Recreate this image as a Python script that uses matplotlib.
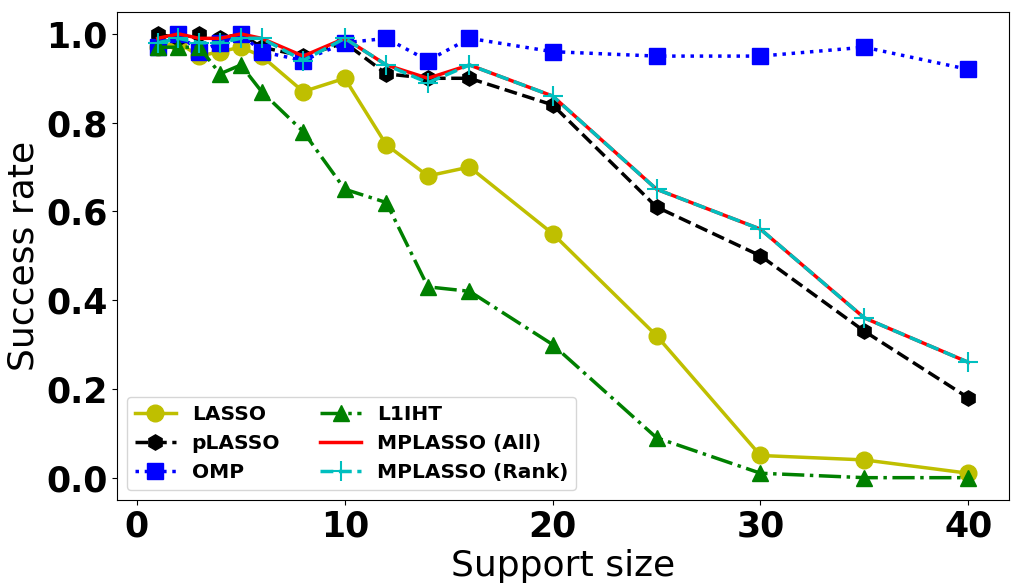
import numpy as np
import matplotlib
matplotlib.use('Agg')
import matplotlib.pyplot as plt

support = [1, 2, 3, 4, 5, 6, 8, 10, 12, 14, 16, 20, 25, 30, 35, 40]

lasso = [0.97, 0.98, 0.95, 0.96, 0.97, 0.95, 0.87, 0.90, 0.75, 0.68, 0.70, 0.55, 0.32, 0.05, 0.04, 0.01]
plasso = [1.00, 0.99, 1.00, 0.99, 1.00, 0.97, 0.95, 0.98, 0.91, 0.90, 0.90, 0.84, 0.61, 0.50, 0.33, 0.18]
omp = [0.97, 1.00, 0.96, 0.98, 1.00, 0.96, 0.94, 0.98, 0.99, 0.94, 0.99, 0.96, 0.95, 0.95, 0.97, 0.92]
l1iht = [0.97, 0.97, 0.97, 0.91, 0.93, 0.87, 0.78, 0.65, 0.62, 0.43, 0.42, 0.30, 0.09, 0.01, 0.00, 0.00]
mp_all = [0.99, 1.00, 0.99, 0.99, 1.00, 0.99, 0.95, 0.99, 0.93, 0.90, 0.93, 0.86, 0.65, 0.56, 0.36, 0.26]
mp_rank = [0.98, 0.99, 0.98, 0.98, 0.99, 0.99, 0.94, 0.99, 0.93, 0.89, 0.93, 0.86, 0.65, 0.56, 0.36, 0.26]

fig = plt.figure(figsize=(10.19, 5.86), dpi=100)
ax = fig.add_axes([0.115, 0.147, 0.875, 0.833])

lw = 2.5
ax.plot(support, lasso, 'y-o', lw=lw, ms=12, label='LASSO')
ax.plot(support, plasso, 'k--h', lw=lw, ms=11, label='pLASSO')
ax.plot(support, omp, 'b:s', lw=lw, ms=11, label='OMP')
ax.plot(support, l1iht, 'g-.^', lw=lw, ms=11, label='L1IHT')
ax.plot(support, mp_all, 'r-', lw=lw, label='MPLASSO (All)')
ax.plot(support, mp_rank, 'c--+', lw=lw, ms=14, mew=1.5, label='MPLASSO (Rank)')

ax.set_xlabel('Support size', fontsize=26)
ax.set_ylabel('Success rate', fontsize=26)
ax.set_xticks([0, 10, 20, 30, 40])
ax.set_yticks([0.0, 0.2, 0.4, 0.6, 0.8, 1.0])
for lab in ax.get_xticklabels() + ax.get_yticklabels():
    lab.set_fontsize(25)
    lab.set_fontweight('bold')

ax.legend(loc='lower left', ncol=2, prop={'size': 14.5, 'weight': 'bold'})

fig.savefig('out.png', dpi=100)
